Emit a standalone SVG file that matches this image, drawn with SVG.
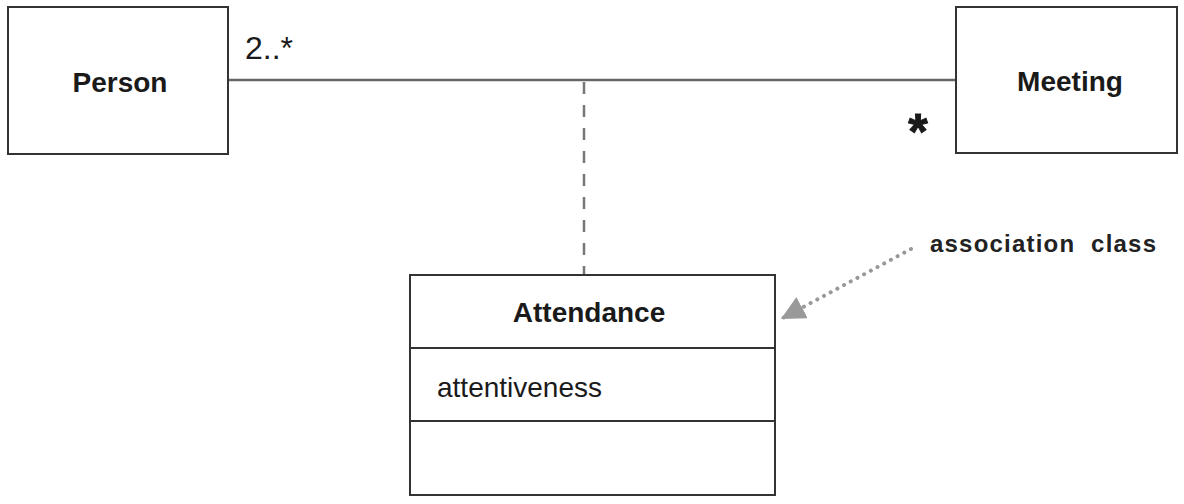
<svg xmlns="http://www.w3.org/2000/svg" width="1184" height="504" viewBox="0 0 1184 504">
<style>
.box{fill:#fff;stroke:#333;stroke-width:2}
.div{stroke:#333;stroke-width:2}
.name{font-family:"Liberation Sans",Arial,sans-serif;font-weight:bold;font-size:28px;fill:#1a1a1a;text-anchor:middle}
.attr{font-family:"Liberation Sans",Arial,sans-serif;font-size:28px;fill:#1a1a1a}
.mult{font-family:"Liberation Sans",Arial,sans-serif;fill:#1a1a1a}
.note{font-family:"Liberation Sans",Arial,sans-serif;font-weight:bold;font-size:24px;letter-spacing:1.2px;word-spacing:8px;fill:#222}
</style>
<defs>
<marker id="ah" viewBox="0 0 10 10" refX="10" refY="5" markerWidth="24" markerHeight="24" markerUnits="userSpaceOnUse" orient="auto">
<path d="M0,0 L10,5 L0,10 Z" fill="#999"/>
</marker>
</defs>
<g id="connectors">
<line x1="228" y1="80" x2="956" y2="80" stroke="#666" stroke-width="2.5"/>
<line x1="584" y1="82" x2="584" y2="275" stroke="#777" stroke-width="2.5" stroke-dasharray="12 11"/>
<line x1="911" y1="249" x2="781" y2="319" stroke="#999" stroke-width="4" stroke-linecap="round" stroke-dasharray="0.1 7.5" marker-end="url(#ah)"/>
</g>
<g id="person">
<rect class="box" x="8" y="7" width="220" height="147"/>
<text class="name" x="120" y="92">Person</text>
</g>
<g id="meeting">
<rect class="box" x="956" y="7" width="221" height="146"/>
<text class="name" x="1070" y="91">Meeting</text>
</g>
<g id="attendance">
<rect class="box" x="410" y="275" width="365" height="220"/>
<line class="div" x1="410" y1="348" x2="775" y2="348"/>
<line class="div" x1="410" y1="421" x2="775" y2="421"/>
<text class="name" x="589" y="322">Attendance</text>
<text class="attr" x="437" y="397">attentiveness</text>
</g>
<g id="labels">
<text class="mult" x="245" y="59" font-size="32">2..*</text>
<text class="mult" x="918" y="149" font-size="50" font-weight="bold" text-anchor="middle" stroke="#1a1a1a" stroke-width="1">*</text>
<text class="note" x="930" y="252">association class</text>
</g>
</svg>
